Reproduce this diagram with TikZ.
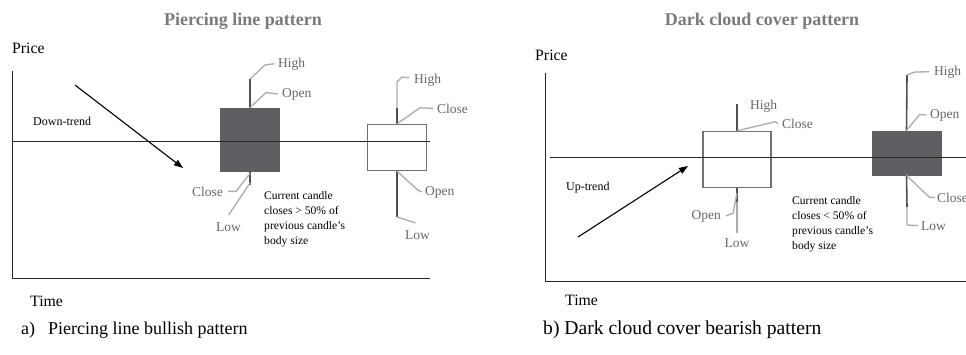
\documentclass[tikz,border=0pt]{standalone}
\usepackage{fontspec}
\setmainfont{Liberation Serif}
\usetikzlibrary{arrows.meta,positioning}
\definecolor{candleDark}{HTML}{5E5F63}
\definecolor{candleEdge}{HTML}{717171}
\definecolor{wickGray}{HTML}{505050}
\definecolor{leadGray}{HTML}{ABABAB}
\definecolor{labelGray}{HTML}{666666}
\definecolor{titleGray}{HTML}{7A7A7A}
\newcommand{\fsz}[2][]{\fontsize{#2}{#2}\selectfont}
\tikzset{
  ctitle/.style={font=\fsz{18}\bfseries,text=titleGray,anchor=base,inner sep=0pt},
  caxis/.style={font=\fsz{15.8},anchor=base west,inner sep=0pt},
  clabel/.style={font=\fsz{13.5},text=labelGray,anchor=base west,inner sep=0pt},
  cnote/.style={font=\fontsize{11.6}{14.8}\selectfont,align=left,anchor=north west,inner sep=0pt},
  ctrend/.style={font=\fsz{12},anchor=base west,inner sep=0pt},
  ccap/.style={anchor=base west,inner sep=0pt},
  cdark/.style={fill=candleDark,draw=candleDark,line width=0.8pt,inner sep=0pt},
  clight/.style={fill=white,draw=candleEdge,line width=1.4pt,inner sep=0pt},
  cwick/.style={draw=wickGray,line width=1.6pt},
  clead/.style={draw=leadGray,line width=1.3pt},
  cline/.style={draw=black!85,line width=0.9pt},
  ctrendarrow/.style={-{Triangle[length=9pt,width=6.5pt]},line width=1.1pt},
}

\begin{document}
\begin{tikzpicture}[x=1pt,y=-1pt]
\useasboundingbox (0,0) rectangle (966,354);

% piercing line panel
\node[ctitle] (ptitle) at (243,25) {Piercing line pattern};
\node[caxis] (pprice) at (12,53) {Price};
\node[caxis] (ptime) at (30,306) {Time};
\coordinate (pytop) at (12,71);
\coordinate (porig) at (12,278);
\coordinate (pxend) at (430,278);
\draw[cline] (pytop) -- (porig) -- (pxend);
\node[ctrend] (pdown) at (33,125) {Down-trend};
\coordinate (pfrom) at (75,85);
\coordinate (pto) at (183,168);
\draw[ctrendarrow] (pfrom) -- (pto);
% first candle
\node[cdark,minimum width=59pt,minimum height=63pt] (pbody1) at (250,139.5) {};
\coordinate (phi1) at (250,79);
\coordinate (plo1) at (250,185);
\draw[cwick] (pbody1.north) -- (phi1);
\draw[cwick] (pbody1.south) -- (plo1);
\node[clabel] (phigh1) at (278,67) {High};
\node[clabel] (popen1) at (282,97) {Open};
\node[clabel,anchor=base east] (pclose1) at (223,196) {Close};
\node[clabel] (plow1) at (216,231) {Low};
\draw[clead] (phi1) -- ++(15,-14) -- ([xshift=-4pt]phigh1.west);
\draw[clead] (pbody1.north) -- ++(16,-15) -- ([xshift=-4pt]popen1.west);
\draw[clead] ([yshift=-2pt]pbody1.south) -- ++(-14,18) -- ([xshift=5pt]pclose1.east);
\draw[clead] ([yshift=2pt]plo1) -- ([yshift=7pt]plow1.north);
% second candle
\node[clight,minimum width=59pt,minimum height=46pt] (pbody2) at (397,147.5) {};
\coordinate (phi2) at (397,108);
\coordinate (plo2) at (397,217);
\draw[cwick] (pbody2.north) -- (phi2);
\draw[cwick] (pbody2.south) -- (plo2);
\node[clabel] (phigh2) at (414,83) {High};
\node[clabel] (pclose2) at (437,113) {Close};
\node[clabel] (popen2) at (425,195) {Open};
\node[clabel] (plow2) at (405,239) {Low};
\draw[clead] (phi2) -- ++(0,-26) -- ++(5,-5) -- ([xshift=-5pt,yshift=2pt]phigh2.west);
\draw[clead] (pbody2.north) -- ++(23,-16) -- ([xshift=-4pt]pclose2.west);
\draw[clead] (pbody2.south) -- ++(21,19) -- ([xshift=-3pt]popen2.west);
\draw[clead] (plo2) -- ([xshift=-2pt,yshift=7pt]plow2.north);
\node[cnote] (pnote) at (264,191.5) {Current candle\\closes > 50\% of\\previous candle’s\\body size};
\coordinate (plevel0) at (12,141);
\coordinate (plevel1) at (430,141);
\draw[cline] (plevel0) -- (plevel1);
\node[ccap,font=\fsz{18}] (pcap) at (21,334) {a)\hspace{13pt}Piercing line bullish pattern};

% dark cloud cover panel
\node[ctitle] (dtitle) at (762,25) {Dark cloud cover pattern};
\node[caxis] (dprice) at (535,60) {Price};
\node[caxis] (dtime) at (565,305) {Time};
\coordinate (dytop) at (545,73);
\coordinate (dorig) at (545,281);
\coordinate (dxend) at (966,281);
\draw[cline] (dytop) -- (dorig) -- (dxend);
\node[ctrend] (dup) at (566,190) {Up-trend};
\coordinate (dfrom) at (578,237);
\coordinate (dto) at (688,166);
\draw[ctrendarrow] (dfrom) -- (dto);
% first candle
\node[clight,minimum width=68pt,minimum height=56pt] (dbody1) at (737,159.5) {};
\coordinate (dhi1) at (737,104);
\coordinate (dlo1) at (737,202);
\draw[cwick] (dbody1.north) -- (dhi1);
\draw[cwick] (dbody1.south) -- (dlo1);
\node[clabel] (dhigh1) at (750,109) {High};
\node[clabel] (dclose1) at (782,128) {Close};
\node[clabel,anchor=base east] (dopen1) at (721,219) {Open};
\node[clabel,anchor=base] (dlow1) at (737,247) {Low};
\draw[clead] (dbody1.north) -- ++(38,-9) -- ([xshift=-4pt]dclose1.west);
\draw[clead] ([yshift=-5pt]dbody1.south) -- ++(-4,20) -- ([xshift=5pt]dopen1.east);
\draw[clead] (dlo1) -- ([yshift=5pt]dlow1.north);
% second candle
\node[cdark,minimum width=69pt,minimum height=44pt] (dbody2) at (906.5,153) {};
\coordinate (dhi2) at (907,75);
\coordinate (dlo2) at (907,207);
\draw[cwick] (dbody2.north) -- (dhi2);
\draw[cwick] (dbody2.south) -- (dlo2);
\node[clabel] (dhigh2) at (934,75) {High};
\node[clabel] (dopen2) at (930,118) {Open};
\node[clabel] (dclose2) at (937,202) {Close};
\node[clabel] (dlow2) at (921,230) {Low};
\draw[clead] (dhi2) -- ++(8,-3) -- ([xshift=-5pt]dhigh2.west);
\draw[clead] (dbody2.north) -- ++(13,-16) -- ([xshift=-4pt]dopen2.west);
\draw[clead] (dbody2.south) -- ++(23,22) -- ([xshift=-2pt]dclose2.west);
\draw[clead] (dlo2) -- ++(0,18) -- ([xshift=-3pt]dlow2.west);
\node[cnote] (dnote) at (792,196.5) {Current candle\\closes < 50\% of\\previous candle’s\\body size};
\coordinate (dlevel0) at (550,157);
\coordinate (dlevel1) at (966,157);
\draw[cline] (dlevel0) -- (dlevel1);
\node[ccap,font=\fsz{19.6}] (dcap) at (543,334) {b) Dark cloud cover bearish pattern};
\end{tikzpicture}
\end{document}
